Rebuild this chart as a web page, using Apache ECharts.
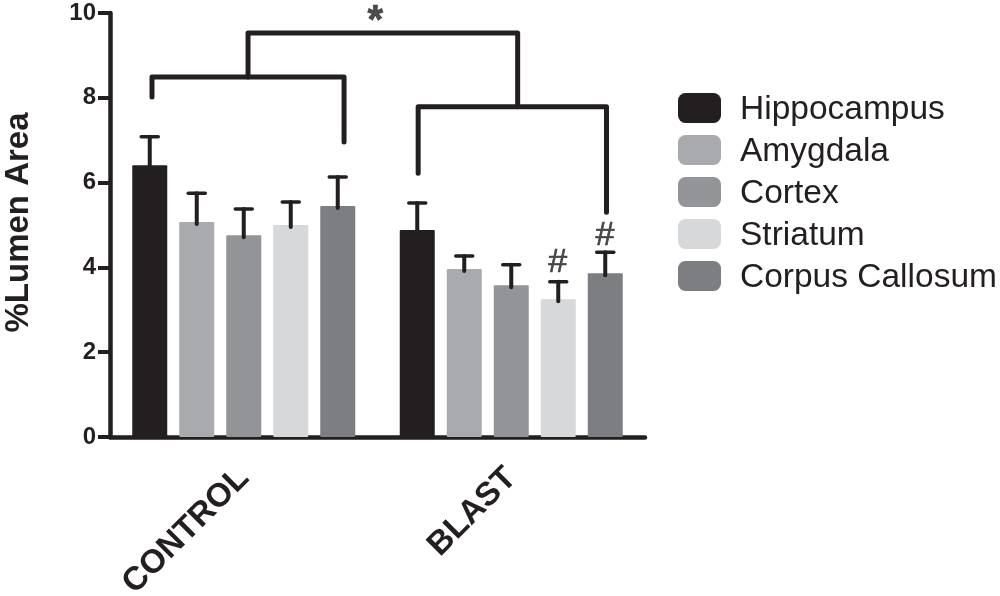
<!DOCTYPE html>
<html>
<head>
<meta charset="utf-8">
<style>html,body{margin:0;padding:0;background:#fff}#chart{width:1000px;height:596px}</style>
<script src="https://cdn.jsdelivr.net/npm/echarts@6/dist/echarts.min.js"></script>
</head>
<body>
<div id="chart"></div>
<script>
var groups = ['CONTROL', 'BLAST'];
var regions = ['Hippocampus', 'Amygdala', 'Cortex', 'Striatum', 'Corpus Callosum'];
var colors = ['#231f20', '#a9aaae', '#929497', '#d7d8da', '#7d7e82'];
// 每个脑区 [CONTROL, BLAST]
var hippocampus = [6.41, 4.88];
var amygdala = [5.07, 3.96];
var cortex = [4.76, 3.58];
var striatum = [5.0, 3.25];
var callosum = [5.45, 3.86];
// 误差线顶端
var hippocampusErr = [7.08, 5.52];
var amygdalaErr = [5.75, 4.27];
var cortexErr = [5.38, 4.06];
var striatumErr = [5.54, 3.66];
var callosumErr = [6.13, 4.36];
// 括号折线: x 以分组宽度为单位(0~2), y 为数值
var bracketControl = [[0.157, 8.02], [0.157, 8.49], [0.875, 8.49], [0.875, 6.96]];
var bracketBlast = [[1.152, 6.22], [1.152, 7.79], [1.856, 7.79], [1.856, 5.3]];
var bracketTop = [[0.516, 8.49], [0.516, 9.53], [1.524, 9.53], [1.524, 7.79]];
// 显著性标记
var marks = [[0.992, 9.78, '*'], [1.674, 4.12, '#'], [1.85, 4.74, '#']];

var means = [hippocampus, amygdala, cortex, striatum, callosum];
var errs = [hippocampusErr, amygdalaErr, cortexErr, striatumErr, callosumErr];
var barW = 35, barStep = 47;
var ink = '#231f20';
var fontName = '"Liberation Sans", Arial, sans-serif';

var errData = [];
for (var i = 0; i < regions.length; i++) {
	for (var j = 0; j < groups.length; j++) {
		errData.push([j, means[i][j], errs[i][j], i]);
	}
}

function renderErr(params, api) {
	var off = (api.value(3) - 2) * barStep;
	var p0 = api.coord([api.value(0), api.value(1)]);
	var p1 = api.coord([api.value(0), api.value(2)]);
	var x = p0[0] + off;
	return {
		type: 'group',
		children: [
			{type: 'line', shape: {x1: x, y1: p0[1] + 2, x2: x, y2: p1[1]}, style: {stroke: ink, lineWidth: 4, lineCap: 'round'}},
			{type: 'line', shape: {x1: x - 8.5, y1: p1[1], x2: x + 8.5, y2: p1[1]}, style: {stroke: ink, lineWidth: 3.5, lineCap: 'round'}}
		]
	};
}

var series = [];
for (var k = 0; k < regions.length; k++) {
	series.push({
		name: regions[k],
		type: 'bar',
		data: means[k],
		barWidth: barW,
		barGap: ((barStep - barW) / barW * 100) + '%',
		itemStyle: {color: colors[k], borderRadius: 1}
	});
}
series.push({type: 'custom', renderItem: renderErr, data: errData, z: 5, silent: true, clip: false, encode: {x: 0, y: [1, 2]}});
[bracketControl, bracketBlast, bracketTop].forEach(function(b) {
	series.push({
		type: 'line', xAxisIndex: 1, data: b, showSymbol: false, silent: true, z: 6,
		lineStyle: {color: ink, width: 5, cap: 'round', join: 'round'}
	});
});
series.push({
	type: 'scatter', xAxisIndex: 1, data: marks, symbolSize: 0, silent: true, z: 7,
	label: {
		show: true, position: 'inside', color: ink, fontFamily: fontName, fontSize: 34,
		textBorderColor: ink, textBorderWidth: 0.7,
		formatter: function(p) { return p.value[2] == '*' ? '{star|*}' : p.value[2]; },
		rich: {star: {fontFamily: fontName, fontSize: 40, fontWeight: 'bold', color: ink}}
	}
});

var chart = echarts.init(document.getElementById('chart'));
chart.setOption({
	animation: false,
	backgroundColor: '#fff',
	textStyle: {fontFamily: fontName},
	grid: {left: 110, top: 13, width: 535, height: 424, containLabel: false, outerBoundsMode: 'none'},
	legend: {
		data: regions, orient: 'vertical', left: 673, top: 88,
		icon: 'roundRect', itemWidth: 43, itemHeight: 30, itemGap: 8,
		formatter: function(name) { return '{a|' + name + '}'; },
		textStyle: {
			color: ink, fontFamily: fontName, fontSize: 33.5,
			rich: {a: {color: ink, fontFamily: fontName, fontSize: 33.5, padding: [4, 0, 0, 14]}}
		}
	},
	xAxis: [{
		type: 'category', data: groups,
		axisLine: {lineStyle: {color: ink, width: 4.5, cap: 'round'}},
		axisTick: {alignWithLabel: true, length: 12, lineStyle: {color: ink, width: 4}},
		axisLabel: {rotate: 45, margin: 36, color: ink, fontWeight: 'bold', fontSize: 33, fontFamily: fontName}
	}, {
		type: 'value', min: 0, max: 2, show: false
	}],
	yAxis: {
		type: 'value', min: 0, max: 10, interval: 2,
		name: '%Lumen Area', nameLocation: 'middle', nameGap: 75,
		nameTextStyle: {color: ink, fontWeight: 'bold', fontSize: 33, fontFamily: fontName, padding: [0, 0, 0, 5]},
		splitLine: {show: false},
		axisLine: {show: true, lineStyle: {color: ink, width: 4.5, cap: 'round'}},
		axisTick: {show: true, length: 12, lineStyle: {color: ink, width: 4}},
		axisLabel: {margin: 14, color: ink, fontWeight: 'bold', fontSize: 24, fontFamily: fontName}
	},
	series: series
});
</script>
</body>
</html>
